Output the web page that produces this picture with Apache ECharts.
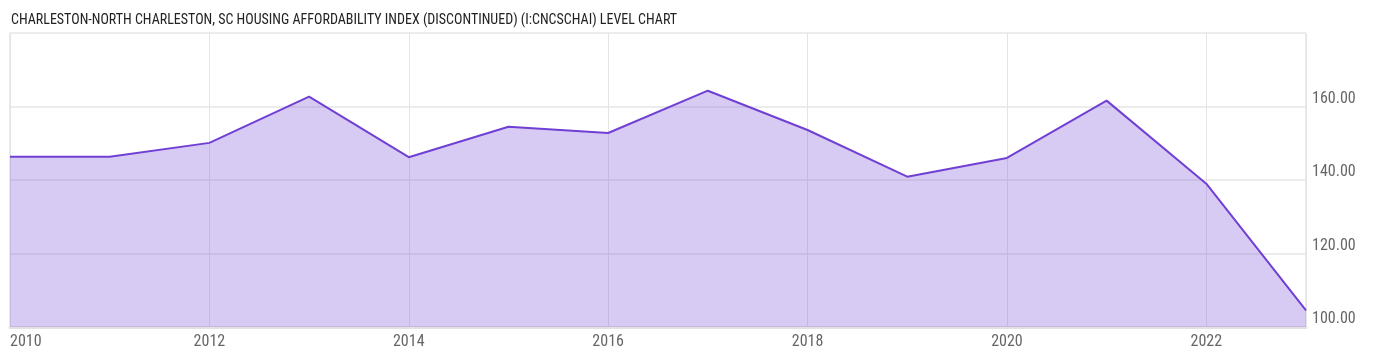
<!DOCTYPE html>
<html>
<head>
<meta charset="utf-8">
<script src="https://cdn.jsdelivr.net/npm/echarts@6/dist/echarts.min.js"></script>
<style>
  html, body { margin: 0; padding: 0; background: #fff; }
  #chart { width: 1400px; height: 357px; }
</style>
</head>
<body>
<div id="chart"></div>
<script>
var years = [2010, 2011, 2012, 2013, 2014, 2015, 2016, 2017, 2018, 2019, 2020, 2021, 2022, 2023];
var values = [146.3, 146.3, 150.1, 162.7, 146.2, 154.5, 152.8, 164.3, 153.6, 140.9, 146.0, 161.6, 139.0, 104.5];

var chart = echarts.init(document.getElementById('chart'));
var font = '"Liberation Sans Narrow", "Roboto Condensed", Roboto, sans-serif';

var option = {
  animation: false,
  title: {
    text: 'CHARLESTON-NORTH CHARLESTON, SC HOUSING AFFORDABILITY INDEX (DISCONTINUED) (I:CNCSCHAI) LEVEL CHART',
    left: 6,
    top: 8,
    textStyle: { fontFamily: font, fontSize: 14, fontWeight: 'normal', color: '#222' }
  },
  grid: {
    left: 10, right: 94, top: 33, bottom: 30,
    show: true, borderColor: '#d4d4d4', borderWidth: 1
  },
  xAxis: {
    type: 'value',
    min: 2010, max: 2023, interval: 2,
    axisLine: { show: true, lineStyle: { color: '#e2e2e2', width: 3 } },
    axisTick: { show: false },
    splitLine: { show: true, lineStyle: { color: '#e4e4e4', width: 1 } },
    axisLabel: {
      showMaxLabel: false,
      alignMinLabel: 'left',
      margin: 7,
      color: '#666',
      fontFamily: font,
      fontSize: 16,
      formatter: function (v) { return String(v); }
    }
  },
  yAxis: {
    type: 'value',
    position: 'right',
    min: 100, max: 180, interval: 20,
    axisLine: { show: false },
    axisTick: { show: false },
    splitLine: { lineStyle: { color: '#ececec', width: 2 } },
    axisLabel: {
      showMaxLabel: false,
      verticalAlign: 'bottom',
      margin: 6,
      color: '#666',
      fontFamily: font,
      fontSize: 16,
      formatter: function (v) { return v.toFixed(2); }
    }
  },
  series: [{
    type: 'line',
    data: years.map(function (y, i) { return [y, values[i]]; }),
    symbol: 'none',
    lineStyle: { color: '#7040d4', width: 2 },
    areaStyle: { color: 'rgba(123,79,214,0.3)', opacity: 1 }
  }]
};
chart.setOption(option);
</script>
</body>
</html>
